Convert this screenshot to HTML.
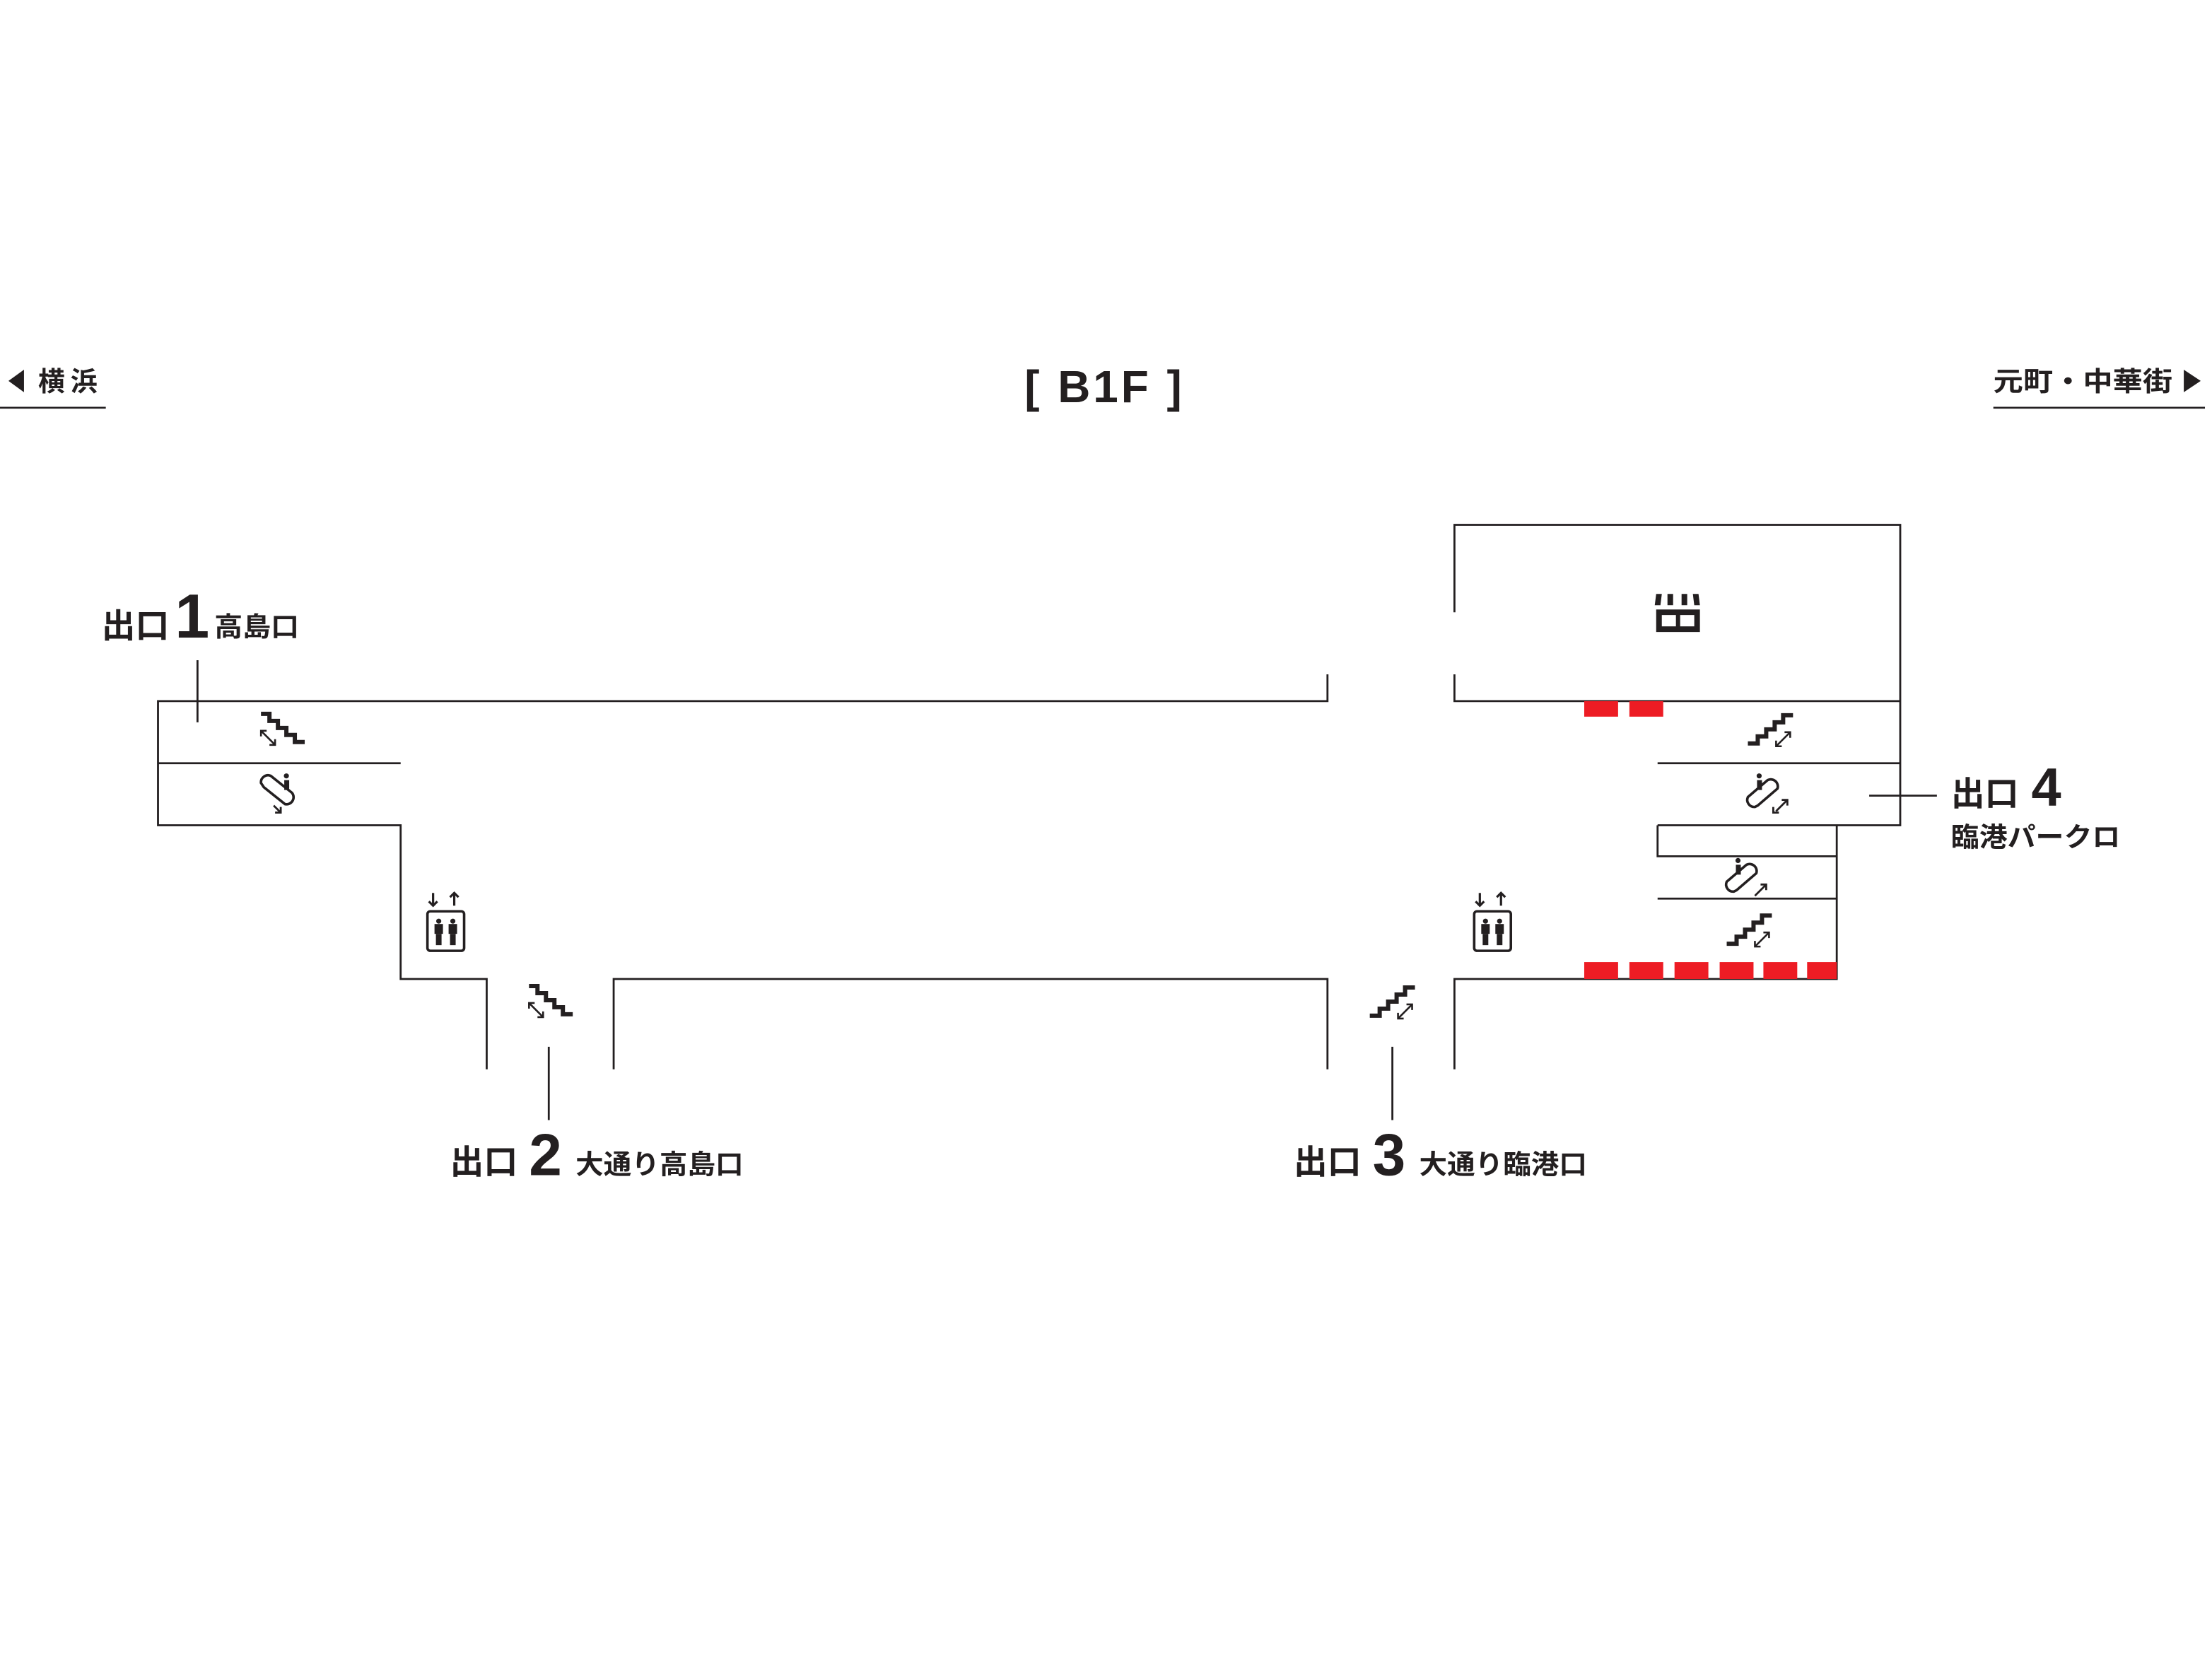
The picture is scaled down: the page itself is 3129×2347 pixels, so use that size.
<!DOCTYPE html>
<html><head><meta charset="utf-8"><style>
html,body{margin:0;padding:0;background:#fff;}
svg{display:block;}
text{font-family:"Liberation Sans","Noto Sans CJK JP",sans-serif;font-weight:bold;fill:#231f20;}
</style></head><body>
<svg width="3129" height="2347" viewBox="0 0 1568 1176" xmlns="http://www.w3.org/2000/svg">
<defs>
<g id="stdown">
<polyline points="-15,-12 -9,-12 -9,-7 -3,-7 -3,-2 3,-2 3,3 9,3 9,8 16,8" fill="none" stroke="#231f20" stroke-width="3"/>
<line x1="-15" y1="0" x2="-5" y2="10" stroke="#231f20" stroke-width="1.3"/>
<polyline points="-15,4 -15,0 -11,0" fill="none" stroke="#231f20" stroke-width="1.3"/>
<polyline points="-9,10 -5,10 -5,6" fill="none" stroke="#231f20" stroke-width="1.3"/>
</g>
<g id="stup">
<polyline points="-16,8 -9,8 -9,3 -3,3 -3,-2 3,-2 3,-7 9,-7 9,-12 16,-12" fill="none" stroke="#231f20" stroke-width="3"/>
<line x1="4" y1="10" x2="14" y2="0" stroke="#231f20" stroke-width="1.3"/>
<polyline points="4,6 4,10 8,10" fill="none" stroke="#231f20" stroke-width="1.3"/>
<polyline points="10,0 14,0 14,4" fill="none" stroke="#231f20" stroke-width="1.3"/>
</g>
<g id="escdown">
<path d="M-14,-8 a5,5 0 0 1 7,-5 l15,12 a5,5 0 0 1 -5,8 l-15,-12 z" fill="none" stroke="#231f20" stroke-width="1.8"/>
<circle cx="4" cy="-13" r="1.8" fill="#231f20"/>
<rect x="2.5" y="-10" width="3.5" height="7" fill="#231f20"/>
<line x1="-5" y1="8" x2="0" y2="13" stroke="#231f20" stroke-width="1.4"/>
<polyline points="0,9 0,13 -4,13" fill="none" stroke="#231f20" stroke-width="1.4"/>
</g>
<g id="escup">
<path d="M-11,9 a5,5 0 0 1 -5,-7 l14,-12 a5,5 0 0 1 7,6 l-14,12 z" fill="none" stroke="#231f20" stroke-width="1.8"/>
<circle cx="-8" cy="-13" r="1.8" fill="#231f20"/>
<rect x="-9.5" y="-10" width="3.5" height="7" fill="#231f20"/>
<line x1="4" y1="12" x2="12" y2="4" stroke="#231f20" stroke-width="1.4"/>
<polyline points="8,4 12,4 12,8" fill="none" stroke="#231f20" stroke-width="1.4"/>
</g>
<g id="escup2">
<use href="#escup"/>
<polyline points="2,9 2,13 6,13" fill="none" stroke="#231f20" stroke-width="1.4"/>
</g>
<g id="elev">
<line x1="-9" y1="-22" x2="-9" y2="-13" stroke="#231f20" stroke-width="1.6"/>
<polyline points="-12,-16 -9,-13 -6,-16" fill="none" stroke="#231f20" stroke-width="1.6"/>
<line x1="6" y1="-13" x2="6" y2="-22" stroke="#231f20" stroke-width="1.6"/>
<polyline points="3,-19 6,-22 9,-19" fill="none" stroke="#231f20" stroke-width="1.6"/>
<rect x="-13" y="-9" width="26" height="28" rx="2" fill="none" stroke="#231f20" stroke-width="1.8"/>
<circle cx="-5" cy="-2" r="1.8" fill="#231f20"/><rect x="-8" y="0" width="6" height="7" fill="#231f20"/><rect x="-7" y="7" width="4" height="8" fill="#231f20"/>
<circle cx="5" cy="-2" r="1.8" fill="#231f20"/><rect x="2" y="0" width="6" height="7" fill="#231f20"/><rect x="3" y="7" width="4" height="8" fill="#231f20"/>
</g>
</defs>

<!-- header -->
<text x="783" y="285" font-size="32" text-anchor="middle" font-weight="normal" letter-spacing="2">[ B1F ]</text>
<polygon points="6,270 17,262 17,278" fill="#231f20"/>
<text x="27" y="277" font-size="19" letter-spacing="4">横浜</text>
<line x1="0" y1="289" x2="75" y2="289" stroke="#231f20" stroke-width="1.3"/>
<text x="1413" y="277" font-size="19" textLength="127" lengthAdjust="spacingAndGlyphs">元町・中華街</text>
<polygon points="1548,262 1560,270 1548,278" fill="#231f20"/>
<line x1="1413" y1="289" x2="1563" y2="289" stroke="#231f20" stroke-width="1.3"/>

<g fill="none" stroke="#231f20" stroke-width="1.4">
<polyline points="941,478 941,497 112,497 112,585 284,585 284,694 345,694 345,758"/>
<line x1="112" y1="541" x2="284" y2="541"/>
<polyline points="435,758 435,694 941,694 941,758"/>
<polyline points="1031,434 1031,372 1347,372 1347,585 1175,585"/>
<polyline points="1031,478 1031,497 1347,497"/>
<line x1="1175" y1="541" x2="1347" y2="541"/>
<polyline points="1302,585 1302,694 1031,694 1031,758"/>
<polyline points="1175,585 1175,607 1302,607"/>
<line x1="1175" y1="637" x2="1302" y2="637"/>
<line x1="140" y1="468" x2="140" y2="512"/>
<line x1="389" y1="742" x2="389" y2="794"/>
<line x1="987" y1="742" x2="987" y2="794"/>
<line x1="1325" y1="564" x2="1373" y2="564"/>
</g>

<g fill="#ed1c24">
<rect x="1123" y="497" width="24" height="11"/><rect x="1155" y="497" width="24" height="11"/>
<rect x="1123" y="682" width="24" height="12"/><rect x="1155" y="682" width="24" height="12"/>
<rect x="1187" y="682" width="24" height="12"/><rect x="1219" y="682" width="24" height="12"/>
<rect x="1250" y="682" width="24" height="12"/><rect x="1281" y="682" width="21" height="12"/>
</g>

<use href="#stdown" x="200" y="518"/>
<use href="#escdown" x="199" y="563"/>
<use href="#elev" x="316" y="655"/>
<use href="#stdown" x="390" y="711"/>
<use href="#stup" x="987" y="712"/>
<use href="#elev" x="1058" y="655"/>
<use href="#stup" x="1255" y="519"/>
<use href="#escup2" x="1255" y="563"/>
<use href="#escup" x="1240" y="623"/>
<use href="#stup" x="1240" y="661"/>
<g fill="#231f20">
<polygon points="1174,421 1178,421 1177,429 1173,429"/>
<rect x="1182" y="421" width="4" height="8"/>
<rect x="1192" y="421" width="4" height="8"/>
<polygon points="1200,421 1204,421 1205,429 1201,429"/>
<path d="M1174,432 h31 v16 h-31 z M1178,436 v8 h10 v-8 z M1191,436 v8 h10 v-8 z" fill-rule="evenodd"/>
</g>

<text x="72" y="452" font-size="24">出口</text>
<text x="124" y="452" font-size="44">1</text>
<text x="152" y="451" font-size="19" textLength="60" lengthAdjust="spacingAndGlyphs">高島口</text>

<text x="319" y="832" font-size="24">出口</text>
<text x="375" y="833" font-size="42">2</text>
<text x="408" y="832" font-size="19" textLength="119" lengthAdjust="spacingAndGlyphs">大通り高島口</text>

<text x="917" y="832" font-size="24">出口</text>
<text x="973" y="833" font-size="42">3</text>
<text x="1006" y="832" font-size="19" textLength="119" lengthAdjust="spacingAndGlyphs">大通り臨港口</text>

<text x="1383" y="571" font-size="24">出口</text>
<text x="1440" y="571" font-size="38">4</text>
<text x="1383" y="600" font-size="19" textLength="120" lengthAdjust="spacingAndGlyphs">臨港パークロ</text>
</svg>
</body></html>
